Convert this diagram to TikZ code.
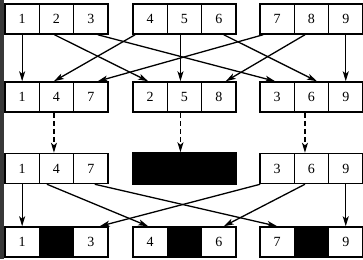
\documentclass[tikz,border=0pt]{standalone}
\usepackage{fontspec}
\setmainfont{Liberation Serif}
\usetikzlibrary{arrows.meta}
\begin{document}
\begin{tikzpicture}[x=1pt,y=1pt,
  cell/.style={draw, line width=1.5pt, minimum width=34.3pt, minimum height=30pt, inner sep=0pt, font=\fontsize{14}{14}\selectfont},
  blk/.style={cell, fill=black},
  conn/.style={line width=1.3pt, -{Stealth[length=10pt,width=6pt,inset=2.5pt]}},
  dconn/.style={conn, dash pattern=on 5pt off 3pt}]
\useasboundingbox (0,0) rectangle (363,-259);
\fill[black!78] (0,0) rectangle (4,-259);
% row 1
\node[cell] (a1) at (22.15,-19) {1};
\node[cell] (a2) at (56.45,-19) {2};
\node[cell] (a3) at (90.75,-19) {3};
\node[cell] (a4) at (150.15,-19) {4};
\node[cell] (a5) at (184.45,-19) {5};
\node[cell] (a6) at (218.75,-19) {6};
\node[cell] (a7) at (277.15,-19) {7};
\node[cell] (a8) at (311.45,-19) {8};
\node[cell] (a9) at (345.75,-19) {9};
% row 2
\node[cell] (b1) at (22.15,-97) {1};
\node[cell] (b4) at (56.45,-97) {4};
\node[cell] (b7) at (90.75,-97) {7};
\node[cell] (b2) at (150.15,-97) {2};
\node[cell] (b5) at (184.45,-97) {5};
\node[cell] (b8) at (218.75,-97) {8};
\node[cell] (b3) at (277.15,-97) {3};
\node[cell] (b6) at (311.45,-97) {6};
\node[cell] (b9) at (345.75,-97) {9};
% row 3
\node[cell] (c1) at (22.15,-168.5) {1};
\node[cell] (c4) at (56.45,-168.5) {4};
\node[cell] (c7) at (90.75,-168.5) {7};
\node[blk, minimum width=103pt, minimum height=31pt] (cx) at (184.45,-168.5) {};
\node[cell] (c3) at (277.15,-168.5) {3};
\node[cell] (c6) at (311.45,-168.5) {6};
\node[cell] (c9) at (345.75,-168.5) {9};
% row 4
\node[cell] (d1) at (22.15,-242) {1};
\node[blk] (dx1) at (56.45,-242) {};
\node[cell] (d3) at (90.75,-242) {3};
\node[cell] (d4) at (150.15,-242) {4};
\node[blk] (dx2) at (184.45,-242) {};
\node[cell] (d6) at (218.75,-242) {6};
\node[cell] (d7) at (277.15,-242) {7};
\node[blk] (dx3) at (311.45,-242) {};
\node[cell] (d9) at (345.75,-242) {9};
% row 1 -> row 2
\draw[conn] (a1.south) -- (b1.north);
\draw[conn] ([xshift=-2pt]a2.south) -- ([xshift=-2pt]b2.north);
\draw[conn] ([xshift=7pt]a3.south) -- ([xshift=-2pt]b3.north);
\draw[conn] ([xshift=-15pt]a4.south) -- ([xshift=-2.5pt]b4.north);
\draw[conn] ([xshift=-4pt]a5.south) -- ([xshift=-4pt]b5.north);
\draw[conn] ([xshift=5pt]a6.south) -- ([xshift=5.5pt]b6.north);
\draw[conn] ([xshift=-14pt]a7.south) -- ([xshift=7pt]b7.north);
\draw[conn] ([xshift=-6.5pt]a8.south) -- ([xshift=7pt]b8.north);
\draw[conn] (a9.south) -- (b9.north);
% row 2 -> row 3
\draw[dconn] ([xshift=-2.5pt]b4.south) -- ([xshift=-2.5pt]c4.north);
\draw[dconn] ([xshift=-4pt]b5.south) -- ([xshift=-4pt]cx.north);
\draw[dconn] ([xshift=-6.5pt]b6.south) -- ([xshift=-6.5pt]c6.north);
% row 3 -> row 4
\draw[conn] (c1.south) -- (d1.north);
\draw[conn] ([xshift=-9.5pt]c4.south) -- ([xshift=-2pt]d4.north);
\draw[conn] ([xshift=4pt]c7.south) -- (d7.north);
\draw[conn] ([xshift=-17pt]c3.south) -- ([xshift=9pt]d3.north);
\draw[conn] ([xshift=-6.5pt]c6.south) -- ([xshift=5pt]d6.north);
\draw[conn] (c9.south) -- (d9.north);
\end{tikzpicture}
\end{document}
